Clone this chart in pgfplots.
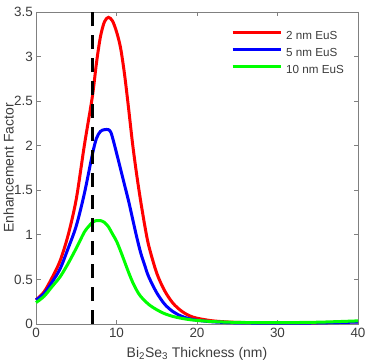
\documentclass[border=0pt]{standalone}
\usepackage{fontspec}
\setmainfont{Liberation Sans}
\usepackage{pgfplots}
\pgfplotsset{compat=1.18}

\definecolor{axgray}{RGB}{128,128,128}
\definecolor{txtgray}{RGB}{60,60,60}

\begin{document}
\begin{tikzpicture}
\begin{axis}[
  name=ax,
  scale only axis, width=322bp, height=312bp,
  xmin=0, xmax=40, ymin=0, ymax=3.5,
  xtick={0,10,20,30,40},
  ytick={0,0.5,1,1.5,2,2.5,3,3.5},
  tick align=inside, major tick length=4.5bp,
  axis line style={axgray, line width=0.8bp},
  every tick/.style={axgray, line width=0.8bp},
  /pgf/number format/assume math mode=true,
  tick label style={font=\fontsize{13.5}{16}\selectfont, text=txtgray, inner sep=0pt},
  xticklabel style={anchor=north, yshift=-4bp},
  yticklabel style={anchor=east, xshift=-3bp},
  xlabel={Bi\textsubscript{2}Se\textsubscript{3} Thickness (nm)},
  ylabel={Enhancement Factor},
  every axis x label/.style={at={(rel axis cs:0.5,0)}, anchor=base, yshift=-33bp,
    font=\fontsize{14}{17}\selectfont, text=txtgray, inner sep=0pt},
  every axis y label/.style={at={(rel axis cs:0,0.5)}, xshift=-22bp, rotate=90, anchor=south,
    font=\fontsize{14}{17}\selectfont, text=txtgray, inner sep=0pt},
  clip=false,
  legend style={at={(rel axis cs:0.6056,0.9397)}, anchor=north west, draw=none, fill=none,
    font=\fontsize{11.7}{14}\selectfont, text=txtgray, inner sep=0pt,
    row sep=6bp, column sep=4bp,
    nodes={inner sep=0pt, text height=8.4bp, text depth=2.3bp}},
  legend cell align=left,
  legend image code/.code={\draw[#1, line width=3bp] (0bp,4.2bp) -- (48bp,4.2bp);},
]

% 2 nm EuS
\addplot[red, line width=3bp, smooth] coordinates {
  (0,0.27)(1,0.36)(2,0.52)(3,0.71)(4,1.00)(5,1.40)(6,2.00)(7,2.55)(7.5,2.92)
  (8,3.22)(8.5,3.39)(9,3.44)(9.5,3.40)(10,3.28)(10.5,3.10)(11,2.80)(11.5,2.42)
  (12,2.02)(12.5,1.68)(13,1.38)(13.5,1.11)(14,0.88)(15,0.57)(16,0.37)(17,0.235)
  (18,0.15)(19,0.095)(20,0.065)(22,0.035)(25,0.018)(30,0.012)(35,0.014)(40,0.025)
};
\addlegendentry{2 nm EuS}

% 5 nm EuS
\addplot[blue, line width=3bp, smooth] coordinates {
  (0,0.27)(1,0.34)(2,0.47)(3,0.62)(4,0.85)(5,1.10)(6,1.46)(7,1.90)(7.5,2.08)
  (8,2.16)(8.5,2.18)(9,2.18)(9.3,2.15)(9.6,2.06)(10,1.92)(10.5,1.74)(11,1.56)
  (11.5,1.38)(12,1.18)(12.5,0.98)(13,0.80)(13.5,0.66)(14,0.53)(15,0.35)(16,0.22)
  (17,0.14)(18,0.09)(19,0.06)(20,0.042)(22,0.024)(25,0.013)(30,0.01)(35,0.012)(40,0.022)
};
\addlegendentry{5 nm EuS}

% 10 nm EuS
\addplot[green, line width=3bp, smooth] coordinates {
  (0,0.24)(1,0.31)(2,0.42)(3,0.53)(4,0.68)(5,0.85)(6,1.03)(6.5,1.09)(7,1.14)
  (7.5,1.16)(8,1.16)(8.5,1.14)(9,1.09)(9.5,1.01)(10,0.93)(10.5,0.82)(11,0.70)
  (11.5,0.58)(12,0.47)(12.5,0.38)(13,0.31)(14,0.22)(15,0.16)(16,0.115)(17,0.085)
  (18,0.065)(19,0.05)(20,0.04)(22,0.027)(25,0.018)(30,0.015)(35,0.02)(40,0.035)
};
\addlegendentry{10 nm EuS}

% marker line at 7 nm
\addplot[black, line width=3.2bp, dash pattern=on 14bp off 8.9bp, forget plot]
  coordinates {(7,0)(7,3.5)};
\end{axis}
\path (ax.south west) ++(-36bp,-39bp) coordinate (bbsw);
\path (ax.north east) ++(7bp,12bp) coordinate (bbne);
\pgfresetboundingbox
\useasboundingbox (bbsw) rectangle (bbne);
\end{tikzpicture}
\end{document}
